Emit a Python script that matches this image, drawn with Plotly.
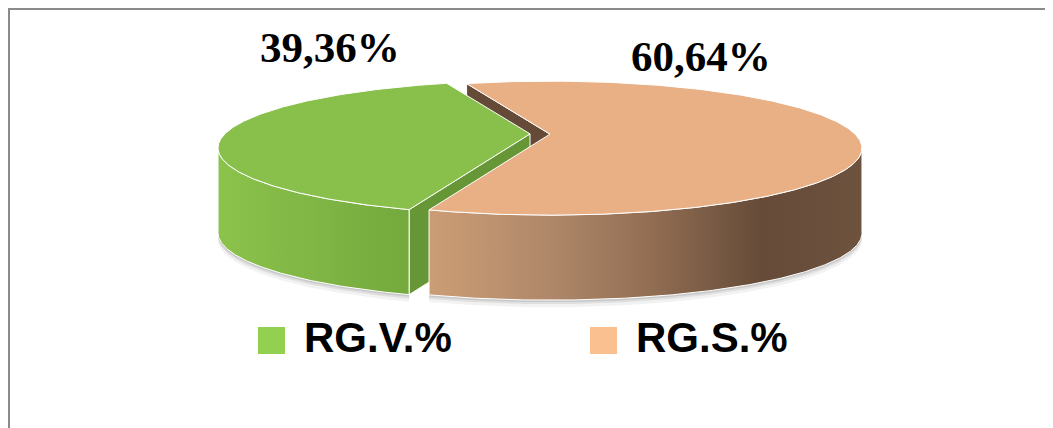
import numpy as np
import plotly.graph_objects as go

# ---------------- data ----------------
categories = ["RG.V.%", "RG.S.%"]
values = [39.36, 60.64]
value_labels = ["39,36%", "60,64%"]

# ---------------- style ----------------
top_colors = ["#88c04b", "#e8b084"]
cut_colors = ["#679637", "#654b37"]
wall_scales = [
    [[0.0, "#8bc34c"], [1.0, "#74a93d"]],
    [[0.0, "#cc9d75"], [0.27, "#b0896a"], [0.5, "#946f54"], [0.77, "#654b38"], [1.0, "#6d523e"]],
]
legend_colors = ["#92d050", "#fac090"]

# the page body has an 8px margin: work in window pixel coordinates
OFF = 8
W, H = 1053, 428
CX, CY = 540.0, 148.0      # ellipse centre (window pixels)
RX, RY = 312.0, 67.0       # ellipse radii
DEPTH = 85.0               # thickness of the pie
APEX_LIFT = 14.0           # perspective shift of the slice apex
EXPLODE = 10.0             # explosion distance
START = -15.5              # degrees clockwise from 12 o'clock

label_pos = [(330, 47), (701, 56)]
legend_sq = [(258, 327), (590, 327)]
SQ = 27
legend_text_x = [302, 634]
legend_text_y = 337

# ---------------- geometry ----------------
total = sum(values)
spans = [v / total * 360.0 for v in values]
angles = [(START - spans[0], START), (START, START + spans[1])]


def rim(theta_deg, ox, oy, dz=0.0):
    t = np.radians(theta_deg)
    return CX + ox + RX * np.sin(t), CY + oy - RY * np.cos(t) + dz


fig = go.Figure()
cut_faces, walls, tops, shadows = [], [], [], []

for i, (a0, a1) in enumerate(angles):
    b = np.radians((a0 + a1) / 2)
    ox = EXPLODE * np.sin(b)
    oy = -EXPLODE * (RY / RX) * np.cos(b)
    ax, ay = CX + ox, CY + oy - APEX_LIFT

    ts = np.linspace(a0, a1, 400)
    rx_, ry_ = rim(ts, ox, oy)
    tops.append((i, np.concatenate([[ax], rx_, [ax]]), np.concatenate([[ay], ry_, [ay]])))

    front = np.cos(np.radians(ts)) < 0
    if front.any():
        tf = ts[front]
        tx, ty = rim(tf, ox, oy)
        bx, by = rim(tf[::-1], ox, oy, DEPTH)
        wx = np.concatenate([tx, bx, tx[:1]])
        wy = np.concatenate([ty, by, ty[:1]])
        walls.append((i, wx, wy))
        shadows.append((wx, wy))

    for edge, normal in ((a0, a0 - 90), (a1, a1 + 90)):
        if np.cos(np.radians(normal)) < 0:
            ex, ey = rim(edge, ox, oy)
            fx = [ax, ex, ex, ax, ax]
            fy = [ay, ey, ey + DEPTH, ay + DEPTH, ay]
            frontness = -np.cos(np.radians(edge))
            cut_faces.append((frontness, i, fx, fy))

# soft shadow
for dy, alpha in ((7, 0.05), (4, 0.08), (2, 0.10)):
    for wx, wy in shadows:
        fig.add_trace(go.Scatter(x=wx, y=wy + dy, mode="lines", fill="toself",
                                 fillcolor=f"rgba(0,0,0,{alpha})", line=dict(width=0),
                                 hoverinfo="skip", showlegend=False))

for _, i, fx, fy in sorted(cut_faces, key=lambda c: c[0]):
    fig.add_trace(go.Scatter(x=fx, y=fy, mode="lines", fill="toself",
                             fillcolor=cut_colors[i], line=dict(color="white", width=1),
                             hoverinfo="skip", showlegend=False))

for i, wx, wy in walls:
    fig.add_trace(go.Scatter(x=wx, y=wy, mode="lines", fill="toself",
                             fillgradient=dict(type="horizontal", colorscale=wall_scales[i]),
                             line=dict(color="white", width=1),
                             hoverinfo="skip", showlegend=False))

for i, tx, ty in tops:
    fig.add_trace(go.Scatter(x=tx, y=ty, mode="lines", fill="toself",
                             fillcolor=top_colors[i], line=dict(color="white", width=1),
                             name=categories[i], hoverinfo="skip", showlegend=False))

annotations = []
for (lx, ly), txt in zip(label_pos, value_labels):
    annotations.append(dict(x=lx, y=ly, xref="x", yref="y", text=txt, showarrow=False,
                            xanchor="center", yanchor="middle",
                            font=dict(family="Liberation Serif", size=43, color="black", weight="bold")))

shapes = [
    dict(type="line", x0=OFF + 1, y0=H, x1=OFF + 1, y1=OFF, xref="x", yref="y",
         line=dict(color="#8a8a8a", width=2)),
    dict(type="line", x0=OFF, y0=OFF + 1, x1=W, y1=OFF + 1, xref="x", yref="y",
         line=dict(color="#8a8a8a", width=2)),
]
for (sx, sy), col, tx, name in zip(legend_sq, legend_colors, legend_text_x, categories):
    shapes.append(dict(type="rect", x0=sx, y0=sy, x1=sx + SQ, y1=sy + SQ, xref="x", yref="y",
                       fillcolor=col, line=dict(width=0)))
    annotations.append(dict(x=tx, y=legend_text_y, xref="x", yref="y", text=name, showarrow=False,
                            xanchor="left", yanchor="middle",
                            font=dict(family="Liberation Sans", size=42, color="black", weight="bold")))

fig.update_layout(
    width=W - OFF, height=H - OFF,
    margin=dict(l=0, r=0, t=0, b=0),
    paper_bgcolor="white", plot_bgcolor="white",
    xaxis=dict(range=[OFF, W], visible=False, fixedrange=True),
    yaxis=dict(range=[H, OFF], visible=False, fixedrange=True),
    shapes=shapes, annotations=annotations, showlegend=False,
)

fig.write_html("out.html")
